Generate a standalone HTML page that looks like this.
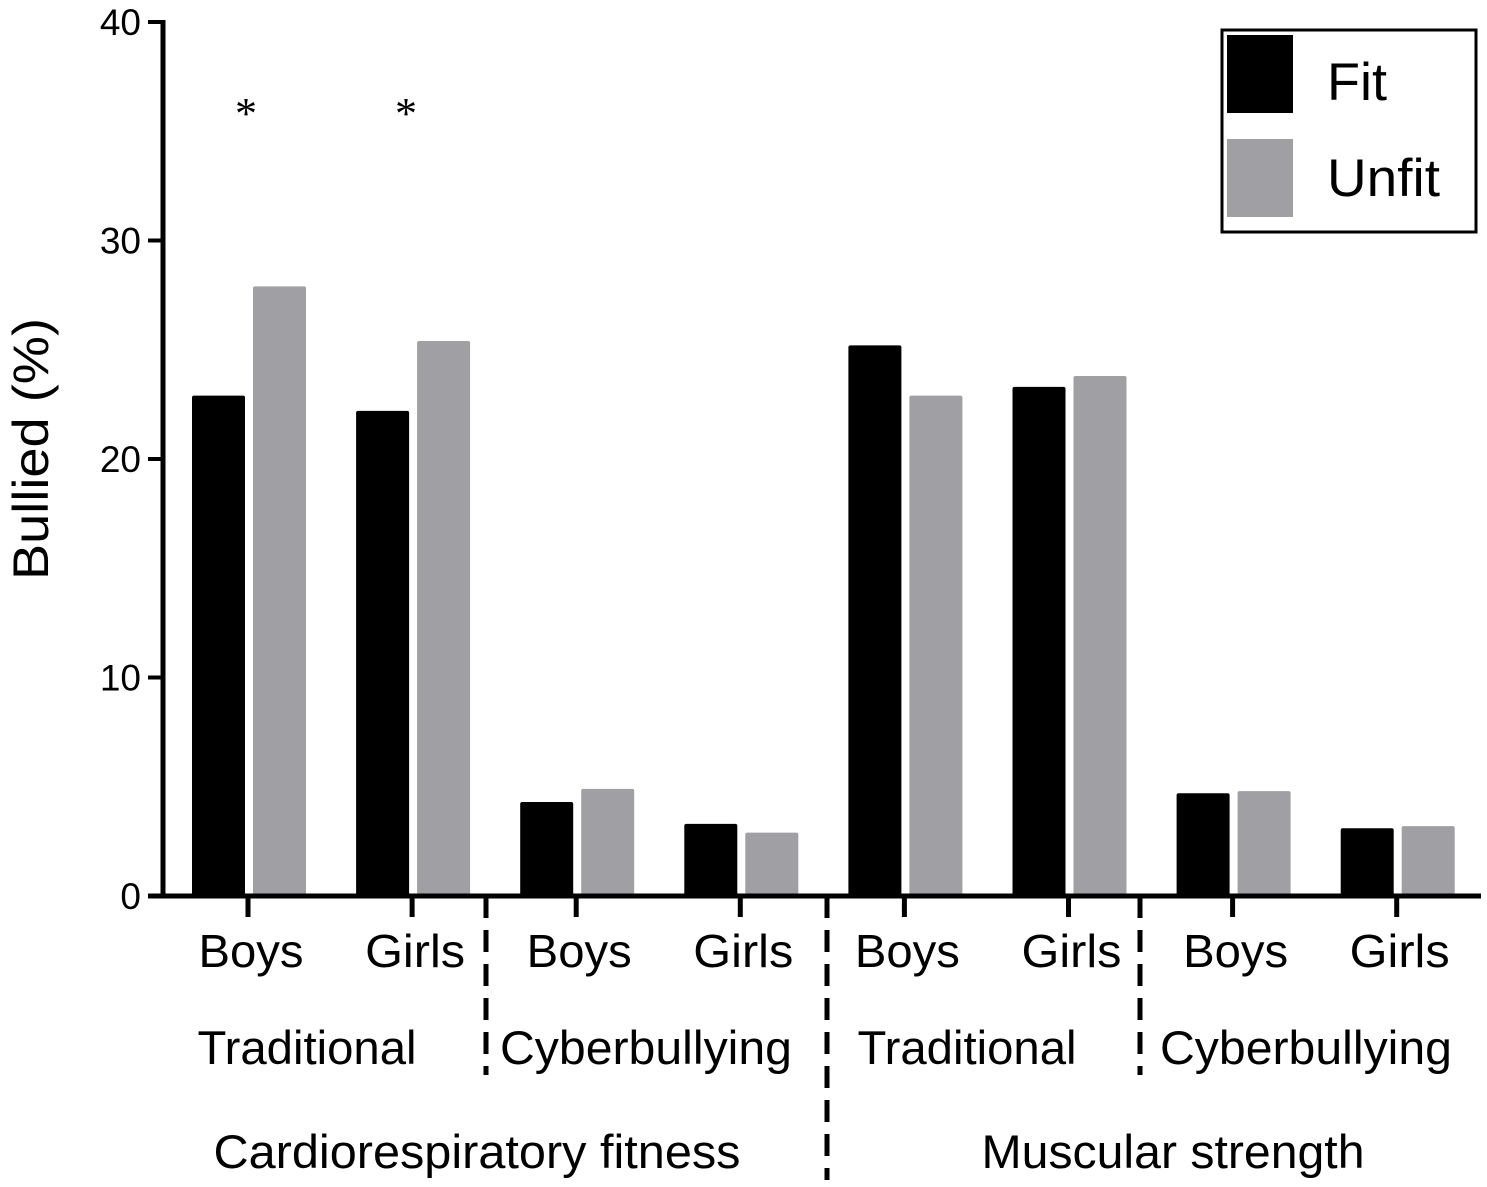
<!DOCTYPE html>
<html><head><meta charset="utf-8"><style>
html,body{margin:0;padding:0;background:#fff;}
svg{display:block;font-family:"Liberation Sans",Arial,sans-serif;}
</style></head><body>
<svg id="chart" width="1487" height="1187" viewBox="0 0 1487 1187">
<g id="bars"></g>
<g id="axes"></g>
<g>
<rect x="1222" y="30" width="254" height="202" fill="#fff" stroke="#000" stroke-width="3"/>
<rect x="1227" y="35" width="66" height="78" fill="#000"/>
<text x="1327" y="100" font-size="53" textLength="60" lengthAdjust="spacingAndGlyphs">Fit</text>
<rect x="1227" y="139" width="66" height="78" fill="#a0a0a4"/>
<text x="1327" y="196" font-size="53" textLength="113" lengthAdjust="spacingAndGlyphs">Unfit</text>
</g>
<text transform="translate(48,449) rotate(-90)" text-anchor="middle" font-size="50" textLength="262" lengthAdjust="spacingAndGlyphs">Bullied (%)</text>
<text x="246" y="128" text-anchor="middle" font-size="44" font-family="Liberation Serif,serif">*</text>
<text x="406" y="128" text-anchor="middle" font-size="44" font-family="Liberation Serif,serif">*</text>
</svg>
<script>
const categories=["Boys","Girls","Boys","Girls","Boys","Girls","Boys","Girls"];
const fitValues=[22.9,22.2,4.3,3.3,25.2,23.3,4.7,3.1];
const unfitValues=[27.9,25.4,4.9,2.9,22.9,23.8,4.8,3.2];
const yTicks=[0,10,20,30,40];
const subgroupLabels=["Traditional","Cyberbullying","Traditional","Cyberbullying"];
const groupLabels=["Cardiorespiratory fitness","Muscular strength"];
const NS="http://www.w3.org/2000/svg";
const y0=896,yTop=22,ymax=40;
function y(v){return y0-(v/ymax)*(y0-yTop);}
function xc(i){return 248+i*164.1;}
function mk(tag,attrs,parent){const e=document.createElementNS(NS,tag);for(const k in attrs)e.setAttribute(k,attrs[k]);parent.appendChild(e);return e;}
const bars=document.getElementById('bars'),axes=document.getElementById('axes');
categories.forEach((c,i)=>{
 const cx=xc(i);
 let b=mk('rect',{x:cx-56,y:y(fitValues[i]),width:53,height:y0-y(fitValues[i]),fill:'#000',rx:2},bars);
 
 
 let u=mk('rect',{x:cx+5,y:y(unfitValues[i]),width:53,height:y0-y(unfitValues[i]),fill:'#a0a0a4',rx:2},bars);
 
 
 let t=mk('line',{x1:cx,x2:cx,y1:y0,y2:917,stroke:'#000','stroke-width':5},axes);
 
 
 let l=mk('text',{x:cx+3,y:967,'text-anchor':'middle','font-size':46,textLength:(c==='Boys'?105:100),lengthAdjust:'spacingAndGlyphs'},axes);
 l.textContent=c;
 
 
});
let ya=mk('line',{x1:163,x2:163,y1:yTop-2,y2:y0+2,stroke:'#000','stroke-width':5},axes);


let xa=mk('line',{x1:148,x2:1481,y1:y0,y2:y0,stroke:'#000','stroke-width':5},axes);


yTicks.forEach(v=>{
 let t=mk('line',{x1:148,x2:163,y1:y(v),y2:y(v),stroke:'#000','stroke-width':4},axes);
 
 
 let l=mk('text',{x:141,y:y(v)+13,'text-anchor':'end','font-size':37},axes);
 l.textContent=v;
 
 
});
[[486,1075],[827,1180],[1140,1075]].forEach(d=>{
 let ln=mk('line',{x1:d[0],x2:d[0],y1:y0,y2:d[1],stroke:'#000','stroke-width':5,'stroke-dasharray':'22 12'},axes);
 
 
});
subgroupLabels.forEach((s,i)=>{
 const pos=[307,646,967,1306][i];
 let l=mk('text',{x:pos,y:1064,'text-anchor':'middle','font-size':47,textLength:(s==='Traditional'?219:292),lengthAdjust:'spacingAndGlyphs'},axes);
 l.textContent=s;
 
 
});
groupLabels.forEach((g,i)=>{
 let l=mk('text',{x:[477,1173][i],y:1168,'text-anchor':'middle','font-size':47,textLength:[527,383][i],lengthAdjust:'spacingAndGlyphs'},axes);
 l.textContent=g;
 
 
});
</script>
</body></html>
